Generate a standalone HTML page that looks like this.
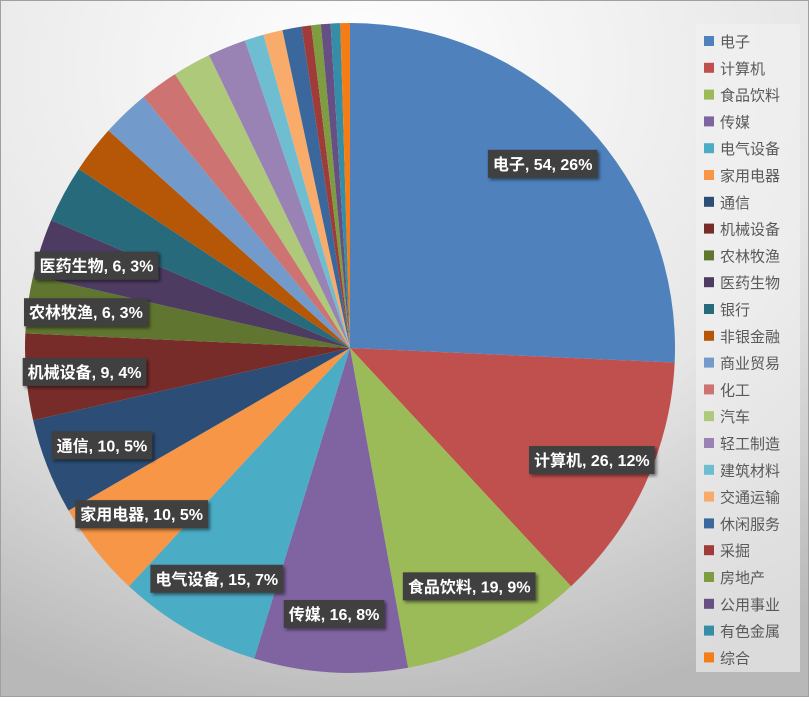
<!DOCTYPE html>
<html><head><meta charset="utf-8"><style>
body{margin:0;width:809px;height:697px;overflow:hidden;font-family:"Liberation Sans","Noto Sans CJK SC",sans-serif}
</style></head><body>
<svg id="chart" width="809" height="697" xmlns="http://www.w3.org/2000/svg">
<defs>
<radialGradient id="bg" cx="0.45" cy="0.1" r="0.95">
<stop offset="0" stop-color="#ffffff"/><stop offset="0.6" stop-color="#e6e6e6"/><stop offset="1" stop-color="#b8b8b8"/>
</radialGradient>
<filter id="sh" x="-10%" y="-20%" width="130%" height="150%"><feDropShadow dx="2" dy="2" stdDeviation="1.5" flood-color="#000" flood-opacity="0.5"/></filter>
</defs>
<rect x="0" y="0" width="809" height="697" fill="url(#bg)"/>
<rect x="0.5" y="0.5" width="808" height="696" fill="none" stroke="#a0a0a0"/>
<rect x="696" y="24" width="104" height="648" fill="#f2f2f2" opacity="0.6"/>
<g id="slices"></g><g id="labels"></g><g id="legend"></g>
</svg>
<script>
const categories=["电子","计算机","食品饮料","传媒","电气设备","家用电器","通信","机械设备","农林牧渔","医药生物","银行","非银金融","商业贸易","化工","汽车","轻工制造","建筑材料","交通运输","休闲服务","采掘","房地产","公用事业","有色金属","综合"];
const values=[54,26,19,16,15,10,10,9,6,6,6,5,5,4,4,4,2,2,2,1,1,1,1,1];
const labeled=10;
const colors=["#4F81BD","#C0504D","#9BBB59","#8064A2","#4BACC6","#F79646","#2C4D75","#772C2A","#5F7530","#4D3B62","#276A7C","#B65708","#729ACA","#CD7371","#AFC97A","#9983B5","#6FBDD1","#F9AB6B","#3A679C","#9F3B38","#7E9C40","#664F83","#358EA6","#F57D16"];
const NS="http://www.w3.org/2000/svg";
const cx=350,cy=348,R=325;
const total=values.reduce((a,b)=>a+b,0);
const gS=document.getElementById('slices'),gL=document.getElementById('labels'),gG=document.getElementById('legend');
function pt(a,r){return [cx+r*Math.sin(a),cy-r*Math.cos(a)];}
let acc=0;
values.forEach((v,i)=>{
  const a0=acc/total*2*Math.PI; acc+=v; const a1=acc/total*2*Math.PI;
  const p0=pt(a0,R),p1=pt(a1,R);
  const p=document.createElementNS(NS,'path');
  p.setAttribute('d',`M${cx},${cy}L${p0[0]},${p0[1]}A${R},${R} 0 ${a1-a0>Math.PI?1:0} 1 ${p1[0]},${p1[1]}Z`);
  p.setAttribute('fill',colors[i]);
  
  
  gS.appendChild(p);
  if(i<labeled){
    const am=(a0+a1)/2; const c=pt(am,R*0.82);
    const txt=`${categories[i]}, ${v}, ${Math.round(v/total*100)}%`;
    const g=document.createElementNS(NS,'g');
    
    
    const t=document.createElementNS(NS,'text');
    t.setAttribute('x',c[0]);t.setAttribute('y',c[1]+6);
    t.setAttribute('text-anchor','middle');t.setAttribute('font-size','16');t.setAttribute('font-weight','bold');t.setAttribute('fill','#fff');
    t.textContent=txt;
    const r=document.createElementNS(NS,'rect');
    g.appendChild(r);g.appendChild(t);gL.appendChild(g);
    const b=t.getBBox();
    r.setAttribute('x',b.x-5);r.setAttribute('y',c[1]-14);r.setAttribute('width',b.width+10);r.setAttribute('height',28);
    r.setAttribute('fill','#404040');r.setAttribute('filter','url(#sh)');
  }
  const ly=41+i*26.8;
  const lg=document.createElementNS(NS,'g');
  
  
  const s=document.createElementNS(NS,'rect');
  s.setAttribute('x',704);s.setAttribute('y',ly-5);s.setAttribute('width',10);s.setAttribute('height',10);s.setAttribute('fill',colors[i]);
  const lt=document.createElementNS(NS,'text');
  lt.setAttribute('x',720);lt.setAttribute('y',ly+6);lt.setAttribute('font-size','15');lt.setAttribute('fill','#595959');
  lt.textContent=categories[i];
  lg.appendChild(s);lg.appendChild(lt);gG.appendChild(lg);
});
</script>
</body></html>
